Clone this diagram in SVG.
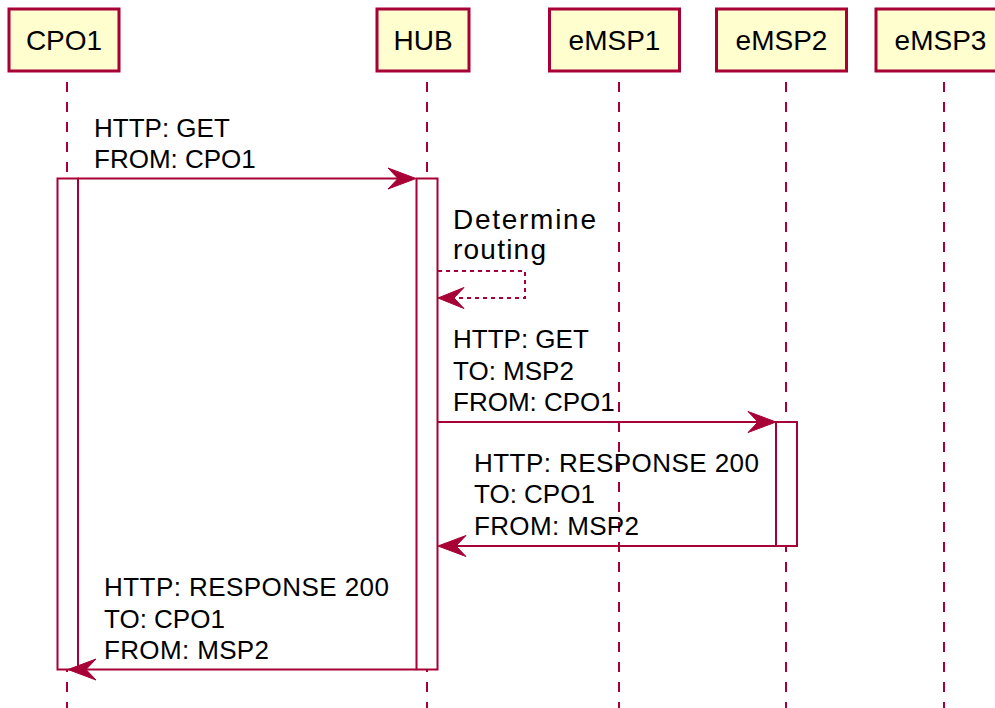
<svg xmlns="http://www.w3.org/2000/svg" width="995" height="708" viewBox="0 0 995 708">
<style>
.box{fill:#FEFECE;stroke:#A80036;stroke-width:3}
.lbl{font-family:"Liberation Sans",Arial,sans-serif;font-size:28px;fill:#000;text-anchor:middle}
.life{stroke:#A80036;stroke-width:2;stroke-dasharray:10,10;fill:none}
.act{fill:#FFFFFF;stroke:#A80036;stroke-width:2}
.msg{stroke:#A80036;stroke-width:2;fill:none}
.dot{stroke:#A80036;stroke-width:2;fill:none;stroke-dasharray:4,4}
.head{fill:#A80036;stroke:#A80036;stroke-width:1}
.txt{font-family:"Liberation Sans",Arial,sans-serif;font-size:26px;fill:#000}
</style>
<g id="lifelines">
<line class="life" x1="67" y1="82" x2="67" y2="708"/>
<line class="life" x1="427" y1="82" x2="427" y2="708"/>
<line class="life" x1="619" y1="82" x2="619" y2="708"/>
<line class="life" x1="786" y1="82" x2="786" y2="708"/>
<line class="life" x1="944" y1="82" x2="944" y2="708"/>
</g>
<g id="CPO1"><rect class="box" x="9" y="9" width="110" height="62"/><text class="lbl" x="64" y="50">CPO1</text></g>
<g id="HUB"><rect class="box" x="377" y="9" width="92" height="62"/><text class="lbl" x="423" y="50">HUB</text></g>
<g id="eMSP1"><rect class="box" x="549.5" y="9" width="130" height="62"/><text class="lbl" x="614.5" y="50">eMSP1</text></g>
<g id="eMSP2"><rect class="box" x="716.5" y="9" width="130" height="62"/><text class="lbl" x="781.5" y="50">eMSP2</text></g>
<g id="eMSP3"><rect class="box" x="876" y="9" width="130" height="62"/><text class="lbl" x="940.5" y="50">eMSP3</text></g>
<g id="activations">
<rect class="act" x="57.5" y="178.5" width="20.5" height="491"/>
<rect class="act" x="416.5" y="178.5" width="21" height="491"/>
<rect class="act" x="776" y="422" width="21" height="124"/>
</g>
<g id="connectors">
<line class="msg" x1="78" y1="178.5" x2="412" y2="178.5"/>
<polygon class="head" points="416,178.5 388,168 398,178.5 388,189"/>
<path class="dot" d="M438 271 H525 V298 H444"/>
<polygon class="head" points="438,298 464,287.5 454,298 464,308.5"/>
<line class="msg" x1="438" y1="422" x2="772" y2="422"/>
<polygon class="head" points="776,422 748,411.5 758,422 748,432.5"/>
<line class="msg" x1="776" y1="546" x2="442" y2="546"/>
<polygon class="head" points="438,546 466,535.5 456,546 466,556.5"/>
<line class="msg" x1="416.5" y1="669.5" x2="72" y2="669.5"/>
<polygon class="head" points="68,669.5 96,659 86,669.5 96,680"/>
</g>
<g id="labels">
<text class="txt" x="94" y="136.5">HTTP: GET</text>
<text class="txt" x="94" y="167.5">FROM: CPO1</text>
<text class="txt" x="453" y="229" style="font-size:28px" textLength="143" lengthAdjust="spacing">Determine</text>
<text class="txt" x="453" y="259" style="font-size:28px" textLength="93" lengthAdjust="spacing">routing</text>
<text class="txt" x="453" y="348">HTTP: GET</text>
<text class="txt" x="453" y="379.5">TO: MSP2</text>
<text class="txt" x="453" y="410.5">FROM: CPO1</text>
<text class="txt" x="474" y="471.5" textLength="285" lengthAdjust="spacing">HTTP: RESPONSE 200</text>
<text class="txt" x="474" y="503">TO: CPO1</text>
<text class="txt" x="474" y="535" textLength="165" lengthAdjust="spacing">FROM: MSP2</text>
<text class="txt" x="104" y="596" textLength="285" lengthAdjust="spacing">HTTP: RESPONSE 200</text>
<text class="txt" x="104" y="627.5">TO: CPO1</text>
<text class="txt" x="104" y="659" textLength="165" lengthAdjust="spacing">FROM: MSP2</text>
</g>
</svg>
